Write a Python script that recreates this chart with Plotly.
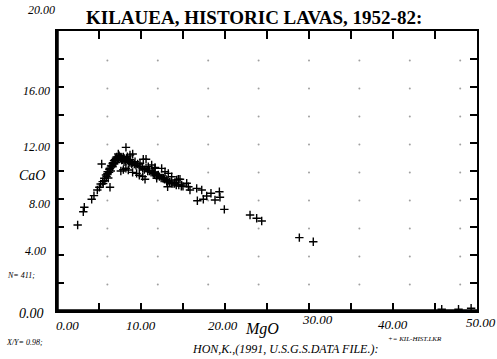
import plotly.graph_objects as go

# ---- data ----
mgo = [2.46, 3.13, 3.25, 4.13, 4.40, 4.80, 5.04, 5.20, 5.44, 5.63, 5.83, 6.03, 6.23, 6.43, 6.63,
       6.79, 7.02, 7.30, 7.38, 7.70, 7.98, 8.21, 5.32, 6.31, 8.37, 8.69, 9.01, 9.29, 8.49, 9.48,
       9.88, 10.27, 10.60, 10.48, 10.87, 11.27, 11.67, 11.87, 12.46, 12.86, 13.25, 13.17, 13.65,
       14.25, 14.64, 15.44, 15.64,
       11.67, 14.44, 15.83, 16.63, 17.23, 16.71, 17.42, 17.82, 18.33, 18.81, 19.33, 19.40, 19.92,
       22.98, 23.77, 24.37, 28.85, 30.51,
       11.47, 12.06, 12.66, 13.06, 13.65, 14.05, 14.84,
       5.5, 5.7, 5.9, 6.0, 6.1, 6.2, 6.3, 6.4, 6.5, 6.6, 6.7, 6.8, 6.9, 7.0, 7.1, 7.2, 7.3, 7.4,
       7.5, 7.6, 7.7, 7.8, 7.9, 8.0, 8.1, 8.2, 8.3, 8.4, 8.5, 8.6, 8.7, 8.8, 8.9, 9.0, 9.2, 9.4,
       9.6, 9.8, 10.0, 10.2, 10.4, 10.6, 10.8, 11.0, 11.2, 11.4, 11.6, 11.8, 12.0, 12.2, 12.4,
       12.6, 12.8, 13.0, 13.2, 13.4, 13.6, 13.8, 14.0, 14.2, 14.5, 14.8, 15.0,
       7.6, 7.9, 8.2, 9.0, 9.8, 10.2,
       45.8, 47.8, 49.3]
cao = [6.14, 7.09, 7.41, 7.98, 8.24, 8.64, 8.84, 9.07, 9.24, 9.48, 9.71, 9.95, 10.12, 10.36, 10.55,
       10.74, 10.91, 11.21, 11.00, 10.79, 10.66, 11.69, 10.50, 8.84, 11.02, 11.14, 11.21, 10.66, 10.07, 9.83,
       10.55, 10.84, 10.84, 9.41, 10.31, 10.43, 10.19, 9.48, 10.19, 9.95, 9.83, 8.88, 9.59,
       9.36, 9.41, 9.12, 8.88,
       10.26, 9.41, 8.64, 8.76, 8.64, 7.88, 7.98, 8.21, 8.41, 7.93, 8.52, 8.12, 7.26,
       6.86, 6.62, 6.43, 5.24, 4.95,
       9.83, 9.71, 9.48, 9.24, 9.12, 9.17, 9.00,
       9.1, 9.3, 9.6, 9.8, 9.5, 9.9, 10.2, 10.0, 10.4, 10.3, 10.6, 10.5, 10.8, 10.6, 11.0, 10.8, 10.9, 11.1,
       10.9, 11.0, 10.9, 10.8, 11.0, 10.9, 10.8, 10.7, 10.9, 10.8, 10.7, 10.6, 10.8, 10.6, 10.5, 10.6, 10.5, 10.4,
       10.5, 10.3, 10.3, 10.2, 10.1, 10.2, 10.0, 10.0, 9.9, 9.9, 9.8, 9.7, 9.7, 9.6, 9.5,
       9.5, 9.4, 9.4, 9.3, 9.2, 9.2, 9.1, 9.1, 9.0, 9.0, 8.9, 8.9,
       10.0, 10.1, 10.2, 9.9, 9.7, 9.6,
       0.12, 0.12, 0.2]

x_tick_vals = [0, 10, 20, 30, 40, 50]
x_tick_text = ["0.00", "10.00", "20.00", "30.00", "40.00", "50.00"]
y_tick_vals = [0, 4, 8, 12, 16, 20]
y_tick_text = ["0.00", "4.00", "8.00", "12.00", "16.00", "20.00"]

grid_x = [6, 12, 18, 24, 30, 36, 42, 48]
grid_y = [2, 4, 6, 8, 10, 12, 14, 16, 18]

SERIF = "Liberation Serif, Times New Roman, serif"


def ifont(size):
    return dict(family=SERIF, size=size, color="black", style="italic")


fig = go.Figure()

# faint grid dots
gx, gy = [], []
for xv in grid_x:
    for yv in grid_y:
        gx.append(xv)
        gy.append(yv - 0.1)
fig.add_trace(go.Scatter(x=gx, y=gy, mode="markers",
                         marker=dict(size=2, color="#a0a0a0"), hoverinfo="skip", showlegend=False))

fig.add_trace(go.Scatter(x=mgo, y=cao, mode="markers",
                         marker=dict(symbol="cross-thin", size=6, color="black",
                                     line=dict(color="black", width=1.4)),
                         showlegend=False))

fig.update_xaxes(range=[0, 50], tickvals=list(range(0, 51, 5)), showticklabels=False,
                 ticks="inside", ticklen=8, tickwidth=2, tickcolor="black",
                 showline=True, linecolor="black", linewidth=1.5, mirror="ticks",
                 showgrid=False, zeroline=False)
fig.update_yaxes(range=[0, 20], tickvals=list(range(0, 21, 2)), showticklabels=False,
                 ticks="inside", ticklen=7, tickwidth=2, tickcolor="black",
                 showline=True, linecolor="black", linewidth=1.5, mirror="ticks",
                 showgrid=False, zeroline=False)

# thick left / bottom axis lines
fig.add_shape(type="line", xref="paper", yref="paper", x0=0, x1=0, y0=0, y1=1,
              line=dict(color="black", width=3.5))
fig.add_shape(type="line", xref="paper", yref="paper", x0=0, x1=1, y0=0, y1=0,
              line=dict(color="black", width=3.5))

ann = []
# y tick labels (positions as in the picture)
y_shift = {0: -2, 4: 4, 8: -5, 12: -4, 16: -4, 20: 21}
y_right = {0: 46, 4: 48, 8: 52, 12: 52, 16: 52, 20: 57}
for v, t in zip(y_tick_vals, y_tick_text):
    ann.append(dict(x=(y_right[v] - 57) / 420, xref="paper", y=v, yref="y", text=t,
                    showarrow=False, xanchor="right", yanchor="middle", yshift=y_shift[v],
                    font=ifont(12 if v else 14)))
# x tick labels
x_y = {0: 325, 10: 325, 20: 325, 30: 320, 40: 324, 50: 322}
x_dx = {0: 10, 10: 0, 20: -2, 30: 8, 40: 0, 50: 4}
for v, t in zip(x_tick_vals, x_tick_text):
    ann.append(dict(x=v, xref="x", y=(311 - x_y[v]) / 280, yref="paper", text=t,
                    showarrow=False, xanchor="center", yanchor="middle", xshift=x_dx[v],
                    font=ifont(13)))

ann += [
    dict(x=(254 - 57) / 420, y=(311 - 18) / 280, xref="paper", yref="paper",
         text="<b>KILAUEA, HISTORIC LAVAS, 1952-82:</b>", showarrow=False,
         font=dict(family=SERIF, size=19, color="black"), xanchor="center", yanchor="middle"),
    dict(x=(32 - 57) / 420, y=(311 - 175) / 280, xref="paper", yref="paper",
         text="CaO", showarrow=False, font=ifont(14),
         xanchor="center", yanchor="middle"),
    dict(x=(262 - 57) / 420, y=(311 - 329) / 280, xref="paper", yref="paper",
         text="MgO", showarrow=False, font=ifont(16),
         xanchor="center", yanchor="middle"),
    dict(x=(190 - 57) / 420, y=(311 - 349) / 280, xref="paper", yref="paper",
         text="HON,K.,(1991, U.S.G.S.DATA FILE.):", showarrow=False,
         font=ifont(12), xanchor="left", yanchor="middle"),
    dict(x=(386 - 57) / 420, y=(311 - 339) / 280, xref="paper", yref="paper",
         text="+= KIL-HIST.LKR", showarrow=False,
         font=ifont(7), xanchor="left", yanchor="middle"),
    dict(x=(5 - 57) / 420, y=(311 - 275) / 280, xref="paper", yref="paper",
         text="N= 411;", showarrow=False,
         font=ifont(8), xanchor="left", yanchor="middle"),
    dict(x=(4 - 57) / 420, y=(311 - 342) / 280, xref="paper", yref="paper",
         text="X/Y= 0.98;", showarrow=False,
         font=ifont(8), xanchor="left", yanchor="middle"),
]

fig.update_layout(width=497, height=359, margin=dict(l=57, r=20, t=31, b=48),
                  plot_bgcolor="white", paper_bgcolor="white", annotations=ann,
                  showlegend=False)

fig.write_html("out.html", config={"displayModeBar": False},
               post_script="document.body.style.margin='0';")
